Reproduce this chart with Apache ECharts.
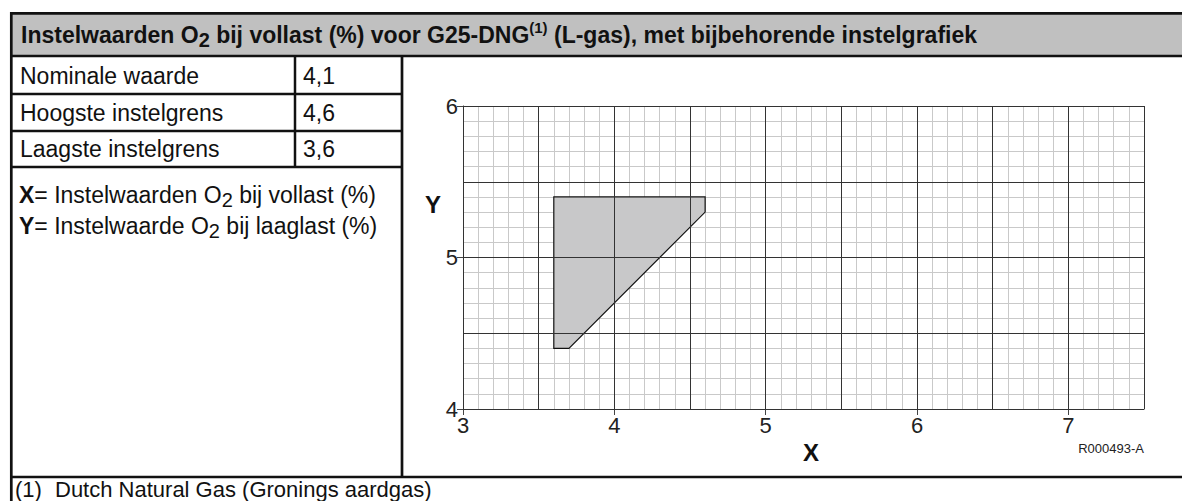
<!DOCTYPE html>
<html>
<head>
<meta charset="utf-8">
<script src="https://cdn.jsdelivr.net/npm/echarts@6/dist/echarts.min.js"></script>
<style>
  html, body { margin: 0; padding: 0; background: #fff; }
  #chart { width: 1182px; height: 501px; }
</style>
</head>
<body>
<div id="chart"></div>
<script>
// Settings table
const rowLabels = ['Nominale waarde', 'Hoogste instelgrens', 'Laagste instelgrens'];
const rowValues = ['4,1', '4,6', '3,6'];

// Admissible setting region (O2 full load X, O2 low load Y), vertices in order
const regionX = [3.6, 4.6, 4.6, 3.7, 3.6];
const regionY = [5.4, 5.4, 5.3, 4.4, 4.4];

// Axis ranges and labelled ticks
const xRange = [3, 7.5];
const yRange = [4, 6];
const xTicks = [3, 4, 5, 6, 7];
const yTicks = [4, 5, 6];

const FONT = '"Liberation Sans", Arial, Helvetica, sans-serif';
const INK = '#111';
const FRAME = 2.7;

const chart = echarts.init(document.getElementById('chart'), null, { renderer: 'svg' });

function hline(x1, x2, y, w) {
  return { type: 'line', silent: true, z: 10,
    shape: { x1: x1, y1: y, x2: x2, y2: y },
    style: { stroke: INK, lineWidth: w } };
}
function vline(x, y1, y2, w) {
  return { type: 'line', silent: true, z: 10,
    shape: { x1: x, y1: y1, x2: x, y2: y2 },
    style: { stroke: INK, lineWidth: w } };
}
function txt(x, y, text, rich) {
  return { type: 'text', silent: true, z: 11, x: x, y: y,
    style: { text: text, fontFamily: FONT, fontSize: 23, fill: INK,
      verticalAlign: 'middle', align: 'left', rich: rich || {} } };
}

const bodyRich = {
  n: { fontFamily: FONT, fontSize: 23, lineHeight: 30, fill: INK, verticalAlign: 'middle' },
  b: { fontFamily: FONT, fontSize: 23, lineHeight: 30, fontWeight: 'bold', fill: INK, verticalAlign: 'middle' },
  sub: { fontFamily: FONT, fontSize: 20, lineHeight: 20, fill: INK, verticalAlign: 'bottom' },
  f: { fontFamily: FONT, fontSize: 22, lineHeight: 24, fill: INK, verticalAlign: 'middle' }
};
const titleRich = {
  t: { fontFamily: FONT, fontSize: 23, lineHeight: 30, fontWeight: 'bold', fill: INK, verticalAlign: 'middle' },
  sub: { fontFamily: FONT, fontSize: 20, lineHeight: 20, fontWeight: 'bold', fill: INK, verticalAlign: 'bottom' },
  sup: { fontFamily: FONT, fontSize: 15, lineHeight: 14, fontWeight: 'bold', fill: INK, verticalAlign: 'top' }
};

// Table frame
const frame = [
  { type: 'rect', silent: true, z: 9, shape: { x: 10, y: 12, width: 1172, height: 45 },
    style: { fill: '#c0c0c0' } },
  hline(10, 1182, 13.3, FRAME),
  hline(10, 1182, 56, FRAME),
  vline(11.3, 12, 501, FRAME),
  hline(10, 1182, 477, FRAME),
  vline(402, 56, 477, FRAME),
  vline(295, 56, 167, 2.5),
  hline(10, 402, 94, 2.5),
  hline(10, 402, 131, 2.5),
  hline(10, 402, 167, 2.5)
];

const rowCenters = [75.5, 112.5, 149];
const tableTexts = [];
rowLabels.forEach(function (lab, i) {
  tableTexts.push(txt(20, rowCenters[i], '{n|' + lab + '}', bodyRich));
  tableTexts.push(txt(303, rowCenters[i], '{n|' + rowValues[i] + '}', bodyRich));
});

const texts = tableTexts.concat([
  txt(21, 34.5,
    '{t|Instelwaarden O}{sub|2}{t| bij vollast (%) voor G25-DNG}{sup|(1)}{t| (L-gas), met bijbehorende instelgrafiek}',
    titleRich),
  txt(19, 195, '{b|X}{n|= Instelwaarden O}{sub|2}{n| bij vollast (%)}', bodyRich),
  txt(19, 226, '{b|Y}{n|= Instelwaarde O}{sub|2}{n| bij laaglast (%)}', bodyRich),
  txt(15, 489, '{f|(1)}', bodyRich),
  txt(55, 489, '{f|Dutch Natural Gas (Gronings aardgas)}', bodyRich),
  // axis title on the left and drawing reference
  { type: 'text', silent: true, z: 11, x: 433, y: 204,
    style: { text: 'Y', fontFamily: FONT, fontSize: 24, fontWeight: 'bold', fill: INK,
      align: 'center', verticalAlign: 'middle' } },
  { type: 'text', silent: true, z: 11, x: 1144, y: 448,
    style: { text: 'R000493-A', fontFamily: FONT, fontSize: 13, fill: '#222',
      align: 'right', verticalAlign: 'middle' } }
]);

// Axis pairs: the first carries line, ticks, labels and the 0.1 grid;
// the second draws the darker 0.5 grid on top of the shaded region.
function baseAxis(range, ticks, pos) {
  return {
    type: 'value', min: range[0], max: range[1], interval: 0.5, position: pos, z: 0,
    axisLine: { show: true, onZero: false, lineStyle: { color: '#222', width: 1 } },
    axisTick: { show: true, customValues: ticks, length: 6, lineStyle: { color: '#444', width: 1 } },
    axisLabel: { show: true, customValues: ticks, fontFamily: FONT, fontSize: 22, color: '#222', margin: 5 },
    splitLine: { show: false },
    minorTick: { show: false, splitNumber: 5 },
    minorSplitLine: { show: true, lineStyle: { color: '#c9c9c9', width: 1 } }
  };
}
function majorAxis(range, pos) {
  return {
    type: 'value', min: range[0], max: range[1], interval: 0.5, position: pos, z: 3,
    axisLine: { show: false }, axisTick: { show: false }, axisLabel: { show: false },
    splitLine: { show: true, lineStyle: { color: '#333', width: 1 } }
  };
}

const xBase = baseAxis(xRange, xTicks, 'bottom');
xBase.name = 'X';
xBase.nameLocation = 'middle';
xBase.nameGap = 27;
xBase.nameTextStyle = { fontFamily: FONT, fontSize: 24, fontWeight: 'bold', color: INK, padding: [0, 0, 0, 15] };

chart.setOption({
  animation: false,
  backgroundColor: '#ffffff',
  grid: { left: 463, top: 106, right: 38, bottom: 92, containLabel: false },
  xAxis: [xBase, majorAxis(xRange, 'top')],
  yAxis: [baseAxis(yRange, yTicks, 'left'), majorAxis(yRange, 'right')],
  series: [{
    type: 'custom',
    xAxisIndex: 0, yAxisIndex: 0, z: 2,
    data: [[regionX[0], regionY[0]]],
    renderItem: function (params, api) {
      const pts = regionX.map(function (x, i) { return api.coord([x, regionY[i]]); });
      return {
        type: 'polygon',
        shape: { points: pts },
        style: { fill: '#c8c8c9', stroke: '#111', lineWidth: 1.2 }
      };
    }
  }],
  graphic: frame.concat(texts)
});
</script>
</body>
</html>
